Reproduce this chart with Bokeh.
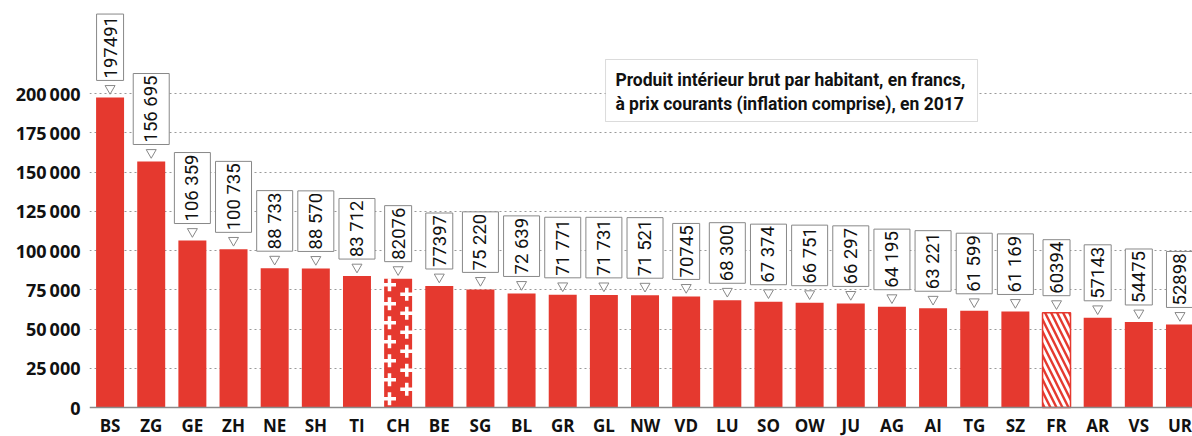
import math
from bokeh.plotting import figure
from bokeh.models import FixedTicker, BoxAnnotation, Label, ColumnDataSource, Span
from bokeh.core.properties import value
from bokeh.embed import file_html
from bokeh.resources import INLINE

# ---- data ----
cantons = ["BS", "ZG", "GE", "ZH", "NE", "SH", "TI", "CH", "BE", "SG", "BL", "GR", "GL",
           "NW", "VD", "LU", "SO", "OW", "JU", "AG", "AI", "TG", "SZ", "FR", "AR", "VS", "UR"]
pib = [197491, 156695, 106359, 100735, 88733, 88570, 83712, 82076, 77397, 75220, 72639,
       71771, 71731, 71521, 70745, 68300, 67374, 66751, 66297, 64195, 63221, 61599, 61169,
       60394, 57143, 54475, 52898]
pib_labels = ["197491", "156 695", "106 359", "100 735", "88 733", "88 570", "83 712", "82076",
              "77397", "75 220", "72 639", "71 771", "71 731", "71 521", "70745", "68 300",
              "67 374", "66 751", "66 297", "64 195", "63 221", "61 599", "61 169", "60394",
              "57143", "54475", "52898"]
y_ticks = [0, 25000, 50000, 75000, 100000, 125000, 150000, 175000, 200000]
y_tick_labels = ["0", "25\u2009000", "50\u2009000", "75\u2009000", "100\u2009000",
                 "125\u2009000", "150\u2009000", "175\u2009000", "200\u2009000"]
title_lines = ["Produit intérieur brut par habitant, en francs,",
               "à prix courants (inflation comprise), en 2017"]
special_swiss = "CH"
special_fr = "FR"

# ---- style / geometry ----
RED = "#e5392f"
GRID = "#9a9a9a"
W, H = 1192, 436
LEFT = 89
ZERO_PX = 407                # canvas y of the zero line
PPU = 1.57 / 1000.0          # pixels per data unit (vertical)
Y_START = -(H - ZERO_PX) / PPU
Y_END = ZERO_PX / PPU
STEP = 41.15                 # pixels per category
X_END = -0.5 + (W - LEFT) / STEP
SANS = "Roboto"

def px(v):
    return v / PPU

def cy(canvas_y):
    return (ZERO_PX - canvas_y) / PPU

p = figure(width=W, height=H, x_range=(-0.5, X_END), y_range=(Y_START, Y_END),
           output_backend="svg", toolbar_location=None,
           min_border_left=LEFT, min_border_right=0, min_border_top=0,
           min_border_bottom=0)
p.outline_line_color = None
p.background_fill_color = "white"
p.xaxis.visible = False

idx = list(range(len(cantons)))
normal = [i for i in idx if cantons[i] not in (special_swiss, special_fr)]

# zero baseline
p.add_layout(Span(location=0, dimension="width", line_color="#8a8a8a", line_width=1.5))

p.vbar(x=[idx[i] for i in normal], top=[pib[i] for i in normal], width=0.68,
       fill_color=RED, line_color=None)

# CH bar with white crosses
ich = cantons.index(special_swiss)
p.vbar(x=[ich], top=[pib[ich]], width=0.68, fill_color=RED, line_color=None)
cx, cyy = [], []
yy = pib[ich] - px(6)
k = 0
while yy > px(4):
    cx.append(ich + (-0.21 if k % 2 == 0 else 0.21))
    cyy.append(yy)
    yy -= px(9.5)
    k += 1
p.scatter(x=cx, y=cyy, marker="cross", size=13, line_color="white", line_width=3.5)

# FR bar with diagonal stripes
ifr = cantons.index(special_fr)
p.vbar(x=[ifr], top=[pib[ifr]], width=0.68, fill_color=RED, line_color=RED,
       line_width=1.5, hatch_pattern="left_diagonal_line", hatch_color="white",
       hatch_weight=3, hatch_scale=12)

# value callouts: pointer + rotated boxed text
p.scatter(x=idx, y=[v + px(9) for v in pib], marker="inverted_triangle", size=10,
          fill_color="white", line_color="#888888", line_width=1)
src = ColumnDataSource(dict(x=idx, y=[v + px(17) for v in pib], t=pib_labels))
p.text(x="x", y="y", text="t", source=src, angle=math.pi / 2,
       text_font=value(SANS), text_font_size="18.5px",
       text_color="#111111", text_align="left", text_baseline="middle",
       background_fill_color="white", border_line_color="#888888",
       border_line_width=1, padding=(2, 7))

# category labels
p.text(x=idx, y=[cy(425)] * len(idx), text=cantons, text_font=value("Open Sans"),
       text_font_style="bold", text_font_size="17px", text_color="#111111",
       text_align="center", text_baseline="middle")

# y axis
p.yaxis.ticker = FixedTicker(ticks=y_ticks)
p.yaxis.major_label_overrides = {t: l for t, l in zip(y_ticks, y_tick_labels)}
p.yaxis.major_label_text_font = "Open Sans"
p.yaxis.major_label_text_font_style = "bold"
p.yaxis.major_label_text_font_size = "18px"
p.yaxis.major_label_text_color = "#111111"
p.yaxis.major_label_standoff = 9
p.yaxis.major_tick_line_color = None
p.yaxis.major_tick_out = 0
p.yaxis.major_tick_in = 0
p.yaxis.minor_tick_line_color = None
p.yaxis.minor_tick_out = 0
p.yaxis.axis_line_color = None

p.xgrid.grid_line_color = None
p.ygrid.ticker = FixedTicker(ticks=y_ticks[1:])
p.ygrid.grid_line_color = GRID
p.ygrid.grid_line_dash = "2 3"
p.ygrid.grid_line_width = 1

# title box
p.add_layout(BoxAnnotation(left=12.04, right=21.08, top=cy(59), bottom=cy(121),
                           fill_color="white", fill_alpha=1.0, line_color="#888888",
                           line_width=1))
for line, ypix in zip(title_lines, [79, 103]):
    p.add_layout(Label(x=12.28, y=cy(ypix), text=line,
                       text_font=SANS, text_font_style="bold",
                       text_font_size="17.5px", text_color="#111111",
                       text_baseline="middle", text_align="left"))

open("out.html", "w").write(file_html(p, INLINE))
